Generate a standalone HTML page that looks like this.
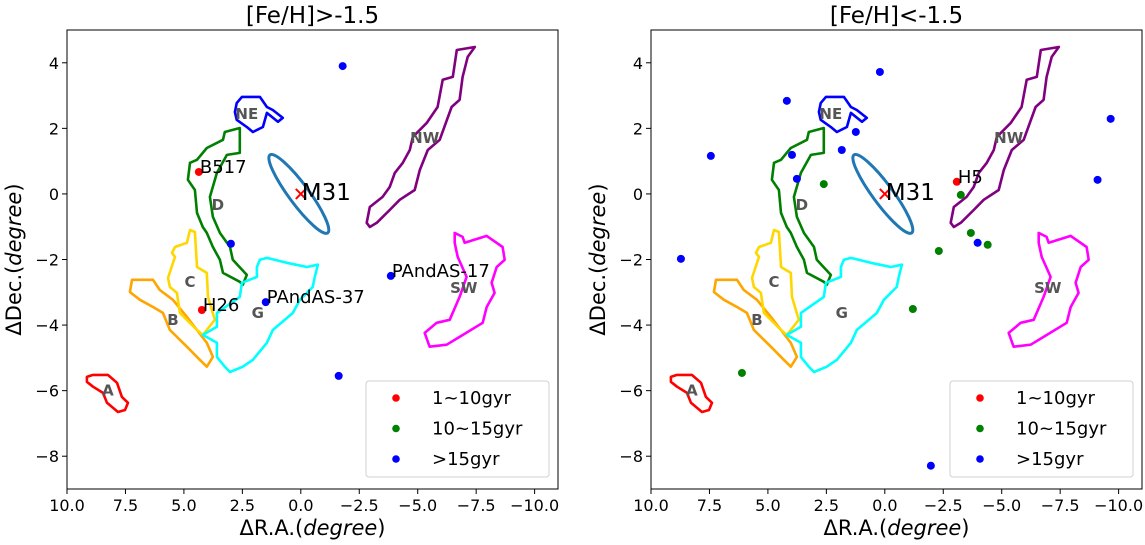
<!DOCTYPE html>
<html><head><meta charset="utf-8">
<style>
html,body{margin:0;padding:0;background:#fff;}
svg{display:block;font-family:"DejaVu Sans","Liberation Sans",sans-serif;}
</style></head>
<body>
<svg id="fig" width="1145" height="545" viewBox="0 0 1145 545" xmlns="http://www.w3.org/2000/svg"></svg>
<script>
// ---- data ----
const xTicks = [10, 7.5, 5, 2.5, 0, -2.5, -5, -7.5, -10];
const xTickLabels = ["10.0","7.5","5.0","2.5","0.0","\u22122.5","\u22125.0","\u22127.5","\u221210.0"];
const yTicks = [4, 2, 0, -2, -4, -6, -8];
const yTickLabels = ["4","2","0","\u22122","\u22124","\u22126","\u22128"];
const panelTitles = ["[Fe/H]>-1.5", "[Fe/H]<-1.5"];
const legendLabels = ["1~10gyr", "10~15gyr", ">15gyr"];
const legendColors = ["red", "green", "blue"];

const regNames = ["A","B","C","D","G","NE","NW","SW"];
const regColors = ["#ff0000","#ffa500","#ffd700","#008000","#00ffff","#0000ff","#800080","#ff00ff"];
const regLabelX = [8.25, 5.47, 4.74, 3.55, 1.84, 2.31, -5.3, -6.97];
const regLabelY = [-6.0, -3.84, -2.68, -0.34, -3.63, 2.44, 1.71, -2.87];
const outlineA = [[9.15,-5.58],[8.89,-5.52],[8.25,-5.52],[7.86,-5.76],[7.65,-6.19],[7.39,-6.37],[7.52,-6.59],[7.82,-6.65],[8.29,-6.37],[8.46,-6.07],[8.89,-5.88],[9.15,-5.73]];
const outlineB = [[7.22,-2.62],[6.32,-2.62],[6.03,-2.93],[5.47,-3.23],[4.87,-3.75],[4.44,-4.15],[4.02,-4.54],[3.76,-4.97],[4.02,-5.27],[4.32,-5.06],[4.87,-4.66],[5.60,-4.15],[5.90,-3.63],[6.32,-3.45],[6.88,-3.23],[7.31,-2.99]];
const outlineC = [[4.74,-1.10],[4.53,-1.16],[4.44,-2.23],[4.02,-2.41],[3.97,-3.14],[3.68,-3.84],[4.19,-4.30],[4.44,-4.15],[5.17,-3.63],[5.30,-3.02],[5.60,-2.84],[5.68,-2.56],[5.38,-1.92],[5.51,-1.80],[5.38,-1.62],[4.87,-1.49]];
const outlineD = [[2.61,2.01],[3.25,1.89],[3.33,1.65],[4.02,1.40],[4.44,1.04],[4.74,0.95],[4.83,0.43],[4.53,0.12],[4.44,-0.58],[4.19,-1.01],[4.02,-1.19],[3.76,-1.62],[3.46,-2.01],[3.33,-2.41],[2.61,-2.68],[2.48,-2.77],[2.31,-2.47],[2.91,-2.01],[3.03,-1.62],[3.46,-1.19],[3.76,-0.70],[3.89,-0.09],[3.59,0.64],[3.16,1.19],[2.61,1.25],[2.61,1.43]];
const outlineG = [[1.75,-2.01],[1.45,-1.95],[0.60,-2.10],[-0.26,-2.23],[-0.73,-2.16],[-0.60,-2.53],[-0.51,-2.84],[0.04,-3.23],[0.34,-3.63],[1.20,-4.15],[1.45,-4.54],[2.05,-5.06],[2.48,-5.27],[3.03,-5.43],[3.25,-5.27],[3.59,-4.97],[3.59,-4.54],[4.19,-4.30],[3.59,-4.05],[3.59,-3.63],[2.61,-3.14],[2.52,-2.71],[1.88,-2.53],[1.88,-2.23]];
const outlineNE = [[2.74,2.77],[2.52,2.96],[1.75,2.96],[1.45,2.65],[1.20,2.56],[0.77,2.32],[0.98,2.20],[1.45,2.47],[1.62,2.04],[2.05,1.89],[2.31,2.04],[2.74,2.26],[2.82,2.50]];
const outlineNW = [[-2.82,-0.88],[-2.95,-0.40],[-3.50,-0.09],[-3.80,0.21],[-4.02,0.64],[-4.36,0.95],[-4.66,1.34],[-4.79,1.74],[-5.38,2.16],[-5.85,2.65],[-6.07,3.48],[-6.50,3.57],[-6.67,4.39],[-7.44,4.48],[-7.14,4.18],[-6.92,3.57],[-6.79,2.87],[-6.45,2.65],[-5.94,1.65],[-5.43,1.34],[-5.09,0.73],[-4.87,0.12],[-4.23,-0.18],[-3.80,-0.49],[-3.25,-0.88],[-2.95,-1.01]];
const outlineSW = [[-6.58,-1.19],[-6.92,-1.31],[-7.01,-1.49],[-7.95,-1.28],[-8.63,-1.62],[-8.72,-2.01],[-8.38,-2.23],[-8.16,-2.71],[-8.29,-3.02],[-7.95,-3.45],[-7.78,-3.93],[-6.79,-4.36],[-6.24,-4.60],[-5.51,-4.66],[-5.30,-4.24],[-5.81,-3.93],[-6.37,-3.84],[-6.79,-3.14],[-7.09,-2.53],[-6.71,-1.92],[-6.58,-1.49]];
const outlines = [outlineA,outlineB,outlineC,outlineD,outlineG,outlineNE,outlineNW,outlineSW];

const diskEnds = [[1.32,1.19],[-1.15,-1.19]];

const leftX = [4.36, 4.23, -1.79, 2.99, 1.5, -3.85, -1.62];
const leftY = [0.67, -3.54, 3.9, -1.52, -3.3, -2.5, -5.55];
const leftCls = [0, 0, 2, 2, 2, 2, 2];
const leftNames = ["B517","H26","","","PAndAS-37","PAndAS-17",""];
const rightX = [-3.08, 0.21, 4.19, 1.24, 1.84, 3.97, 7.44, 3.76, 8.72, -1.97, -3.97, -9.66, -9.10, 2.61, -2.31, -1.20, 6.11, -3.25, -3.68, -4.40];
const rightY = [0.37, 3.72, 2.84, 1.89, 1.34, 1.19, 1.16, 0.46, -1.98, -8.29, -1.49, 2.29, 0.43, 0.30, -1.74, -3.51, -5.46, -0.03, -1.19, -1.55];
const rightCls = [0, 2, 2, 2, 2, 2, 2, 2, 2, 2, 2, 2, 2, 1, 1, 1, 1, 1, 1, 1];
const rightNames = ["H5","","","","","","","","","","","","","","","","","","",""];

// ---- drawing ----
const NS = "http://www.w3.org/2000/svg";
const svg = document.getElementById("fig");
function mk(tag, attrs, parent) {
  const e = document.createElementNS(NS, tag);
  for (const k in attrs) e.setAttribute(k, attrs[k]);
  (parent || svg).appendChild(e);
  return e;
}
const X0 = 10, X1 = -11, Y0 = 5, Y1 = -9;
const TOP = 30, BOT = 489, W = 491;

function drawPanel(p, left, px, py, pc, pn) {
  const sx = v => left + (v - X0) / (X1 - X0) * W;
  const sy = v => TOP + (v - Y0) / (Y1 - Y0) * (BOT - TOP);
  const g = mk("g", {});
  
  
  const clipId = "clip" + p;
  const cp = mk("clipPath", {id: clipId}, g);
  mk("rect", {x: left, y: TOP, width: W, height: BOT - TOP}, cp);
  const plot = mk("g", {"clip-path": "url(#" + clipId + ")"}, g);
  
  

  outlines.forEach((pts, i) => {
    const d = pts.map((q, j) => (j ? "L" : "M") + sx(q[0]).toFixed(1) + "," + sy(q[1]).toFixed(1)).join("") + "Z";
    const path = mk("path", {d: d, fill: "none", stroke: regColors[i], "stroke-width": 2.6, "stroke-linejoin": "round"}, plot);
    
    
  });
  regNames.forEach((n, i) => {
    const t = mk("text", {x: sx(regLabelX[i]), y: sy(regLabelY[i]) + 5, "text-anchor": "middle", "font-size": 15, "font-weight": "bold", fill: "#555"}, plot);
    t.textContent = n;
    
    
  });
  const ax = sx(diskEnds[0][0]), ay = sy(diskEnds[0][1]), bx = sx(diskEnds[1][0]), by = sy(diskEnds[1][1]);
  const cx = (ax + bx) / 2, cy = (ay + by) / 2;
  const len = Math.hypot(bx - ax, by - ay) / 2;
  const ang = Math.atan2(by - ay, bx - ax) * 180 / Math.PI;
  const el = mk("ellipse", {cx: cx, cy: cy, rx: len, ry: 10, fill: "none", stroke: "#1f77b4", "stroke-width": 3, transform: "rotate(" + ang + " " + cx + " " + cy + ")"}, plot);
  
  
  const mx = sx(0), my = sy(0);
  const cross = mk("path", {d: `M${mx-5},${my-5}L${mx+5},${my+5}M${mx-5},${my+5}L${mx+5},${my-5}`, stroke: "red", "stroke-width": 2}, plot);
  
  
  const mt = mk("text", {x: mx + 1, y: my + 6, "font-size": 23, fill: "#000"}, plot);
  mt.textContent = "M31";
  
  

  px.forEach((v, i) => {
    const c = mk("circle", {cx: sx(v), cy: sy(py[i]), r: 4, fill: legendColors[pc[i]]}, plot);
    
    
    if (pn[i]) {
      const t = mk("text", {x: sx(v) + 1, y: sy(py[i]) + 1, "font-size": 18, fill: "#000"}, plot);
      t.textContent = pn[i];
      
      
    }
  });

  const fr = mk("rect", {x: left, y: TOP, width: W, height: BOT - TOP, fill: "none", stroke: "#000", "stroke-width": 1}, g);
  
  
  xTicks.forEach((v, i) => {
    const x = sx(v);
    mk("line", {x1: x, x2: x, y1: BOT, y2: BOT + 5, stroke: "#000"}, g);
    const t = mk("text", {x: x, y: BOT + 22, "text-anchor": "middle", "font-size": 16}, g);
    t.textContent = xTickLabels[i];
    
    
  });
  yTicks.forEach((v, i) => {
    const y = sy(v);
    mk("line", {x1: left - 5, x2: left, y1: y, y2: y, stroke: "#000"}, g);
    const t = mk("text", {x: left - 8, y: y + 6, "text-anchor": "end", "font-size": 16}, g);
    t.textContent = yTickLabels[i];
    
    
  });
  const tt = mk("text", {x: left + W / 2, y: 23, "text-anchor": "middle", "font-size": 23}, g);
  tt.textContent = panelTitles[p];
  
  
  const xl = mk("text", {x: left + W / 2, y: 535, "text-anchor": "middle", "font-size": 21}, g);
  xl.innerHTML = 'ΔR.A.(<tspan font-style="italic">degree</tspan>)';
  
  
  const ylx = left - 46, yly = (TOP + BOT) / 2;
  const yl = mk("text", {x: ylx, y: yly, "text-anchor": "middle", "font-size": 21, transform: `rotate(-90 ${ylx} ${yly})`}, g);
  yl.innerHTML = 'ΔDec.(<tspan font-style="italic">degree</tspan>)';
  
  
  const lx = left + W - 192, ly = 381;
  const lg = mk("g", {}, g);
  
  
  mk("rect", {x: lx, y: ly, width: 183, height: 96, rx: 3, fill: "#fff", stroke: "#d0d0d0"}, lg);
  legendLabels.forEach((s, i) => {
    const yy = ly + 17 + i * 30.5;
    const m = mk("circle", {cx: lx + 30, cy: yy, r: 3.8, fill: legendColors[i]}, lg);
    
    
    const t = mk("text", {x: lx + 66, y: yy + 6, "font-size": 18}, lg);
    t.textContent = s;
    
    
  });
}
drawPanel(0, 67, leftX, leftY, leftCls, leftNames);
drawPanel(1, 651, rightX, rightY, rightCls, rightNames);
</script>
</body></html>
